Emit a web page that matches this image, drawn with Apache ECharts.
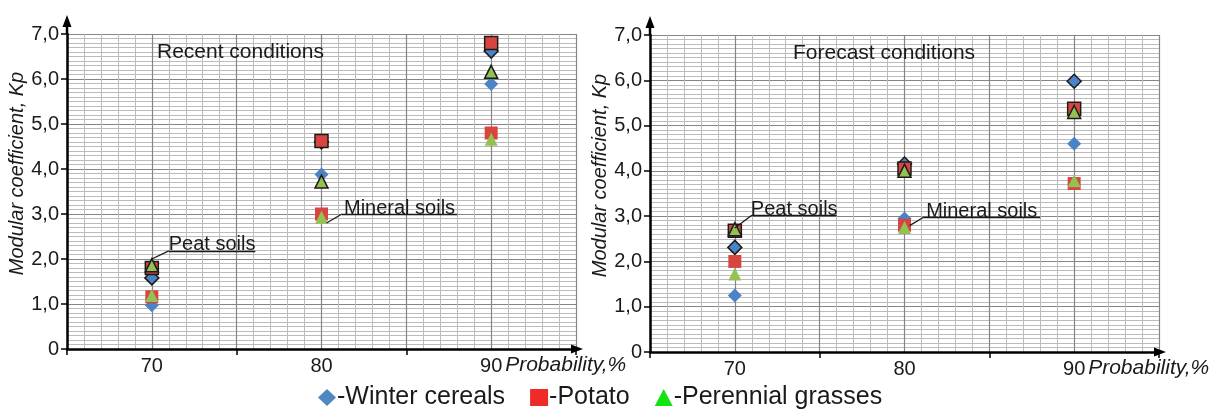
<!DOCTYPE html>
<html>
<head>
<meta charset="utf-8">
<script src="https://cdn.jsdelivr.net/npm/echarts@6/dist/echarts.min.js"></script>
<style>
  html, body { margin: 0; padding: 0; background: #fff; }
  #main { width: 1219px; height: 410px; }
</style>
</head>
<body>
<div id="main"></div>
<script>
// x values (probability, %) and axis labels
const probability = [70, 80, 90];
const xTickValues = [65, 75, 85, 95];
const xLabelValues = [70, 80, 90];
const yLabels = ['0', '1,0', '2,0', '3,0', '4,0', '5,0', '6,0', '7,0'];

// Recent conditions: peat soils / mineral soils
const recentPeatWinter = [1.58, 4.6, 6.62];
const recentPeatPotato = [1.8, 4.62, 6.8];
const recentPeatGrass = [1.86, 3.72, 6.16];
const recentMinWinter = [0.97, 3.88, 5.89];
const recentMinPotato = [1.16, 3.0, 4.8];
const recentMinGrass = [1.19, 2.93, 4.66];

// Forecast conditions
const forecastPeatWinter = [2.31, 4.15, 5.98];
const forecastPeatPotato = [2.68, 4.05, 5.37];
const forecastPeatGrass = [2.71, 4.0, 5.3];
const forecastMinWinter = [1.25, 2.95, 4.6];
const forecastMinPotato = [2.0, 2.8, 3.72];
const forecastMinGrass = [1.72, 2.75, 3.78];

// callouts, in data units
const recentNotes = [
  { text: 'Peat soils', from: [70, 2.0], bend: [71, 2.18], to: [76.1, 2.18] },
  { text: 'Mineral soils', from: [80.3, 2.8], bend: [81.2, 3.0], to: [88.0, 3.0] }
];
const forecastNotes = [
  { text: 'Peat soils', from: [70, 2.74], bend: [71, 3.02], to: [76.0, 3.02] },
  { text: 'Mineral soils', from: [80.3, 2.79], bend: [81.1, 2.97], to: [88.0, 2.97] }
];

const FONT = 'Liberation Sans, Arial, sans-serif';
const crops = [
  { name: '-Winter cereals', symbol: 'diamond', size: 14, color: '#4a84c6', legend: '#4f87c0' },
  { name: '-Potato', symbol: 'rect', size: 13, color: '#d6453f', legend: '#ee2b27' },
  { name: '-Perennial grasses', symbol: 'triangle', size: 13, color: '#94c153', legend: '#13e313' }
];
const peatBorder = { borderColor: '#1b1b1b', borderWidth: 1.5 };

const makePoints = (peat, mineral) => {
  const pts = [];
  probability.forEach((x, i) => {
    pts.push({ value: [x, mineral[i]] });
  });
  probability.forEach((x, i) => {
    pts.push({ value: [x, peat[i]], itemStyle: peatBorder });
  });
  return pts;
};

const noteLines = (notes) => {
  const out = [];
  notes.forEach(n => {
    out.push([{ coord: n.from, label: { show: false } }, { coord: n.bend }]);
    out.push([{
      coord: n.bend,
      label: {
        show: true, formatter: n.text, position: 'insideMiddleTop', distance: -4,
        fontFamily: FONT, fontSize: 20, color: '#1a1a1a'
      }
    }, { coord: n.to }]);
  });
  return out;
};

const gridAxis = (g) => ({
  type: 'value', gridIndex: g, position: 'top', min: 65, max: 95, interval: 5,
  axisLine: { show: false }, axisTick: { show: false }, axisLabel: { show: false },
  splitLine: { show: true, lineStyle: { color: '#858585', width: 1.2 } },
  minorTick: { show: false, splitNumber: 5 },
  minorSplitLine: { show: true, lineStyle: { color: '#bcbcbc', width: 1 } }
});

const mainXAxis = (g) => ({
  type: 'value', gridIndex: g, position: 'bottom', min: 65, max: 95, interval: 5,
  axisLine: { show: true, lineStyle: { color: '#000', width: 2.5 } },
  axisTick: { show: true, customValues: xTickValues, length: 6, lineStyle: { color: '#000', width: 1.5 } },
  axisLabel: { show: true, customValues: xLabelValues, margin: 7,
    fontFamily: FONT, fontSize: 20, color: '#1a1a1a' },
  splitLine: { show: false }
});

const mainYAxis = (g) => ({
  type: 'value', gridIndex: g, min: 0, max: 7, interval: 1,
  name: 'Modular coefficient, Kp', nameLocation: 'middle', nameGap: 38,
  nameTextStyle: { fontFamily: FONT, fontSize: 20, fontStyle: 'italic', color: '#1a1a1a',
    padding: [0, 0, 0, 36] },
  axisLine: { show: true, lineStyle: { color: '#000', width: 2.5 } },
  axisTick: { show: true, length: 6, lineStyle: { color: '#000', width: 1.5 } },
  axisLabel: { margin: 8, fontFamily: FONT, fontSize: 20, color: '#1a1a1a',
    formatter: v => yLabels[v] },
  splitLine: { show: true, lineStyle: { color: '#858585', width: 1.2 } },
  minorTick: { show: false, splitNumber: 10 },
  minorSplitLine: { show: true, lineStyle: { color: '#bcbcbc', width: 1 } }
});

const chartSets = [
  { grid: 0, x: 0, series: [[recentPeatWinter, recentMinWinter], [recentPeatPotato, recentMinPotato], [recentPeatGrass, recentMinGrass]], notes: recentNotes },
  { grid: 1, x: 2, series: [[forecastPeatWinter, forecastMinWinter], [forecastPeatPotato, forecastMinPotato], [forecastPeatGrass, forecastMinGrass]], notes: forecastNotes }
];

const series = [];
const firstSeries = [];
chartSets.forEach(cs => {
  firstSeries.push(series.length);
  cs.series.forEach((pair, k) => {
    const c = crops[k];
    series.push({
      type: 'scatter', name: c.name, xAxisIndex: cs.x, yAxisIndex: cs.grid,
      symbol: c.symbol, symbolSize: c.size,
      itemStyle: { color: c.color, opacity: 1 },
      data: makePoints(pair[0], pair[1])
    });
  });
  series.push({
    type: 'line', name: 'notes', xAxisIndex: cs.x, yAxisIndex: cs.grid, data: [],
    markLine: {
      silent: true, animation: false, symbol: ['none', 'none'],
      lineStyle: { color: '#1a1a1a', width: 1.3, type: 'solid' },
      data: noteLines(cs.notes)
    }
  });
});

const option = {
  animation: false,
  backgroundColor: '#fff',
  title: [
    { text: 'Recent conditions', left: 157, top: 42, padding: 0,
      textStyle: { fontFamily: FONT, fontSize: 21, fontWeight: 'normal', color: '#1a1a1a' } },
    { text: 'Forecast conditions', left: 793, top: 43, padding: 0,
      textStyle: { fontFamily: FONT, fontSize: 21, fontWeight: 'normal', color: '#1a1a1a' } }
  ],
  legend: {
    left: 318, top: 385, padding: 0, itemGap: 25, itemWidth: 18, itemHeight: 17,
    selectedMode: false,
    textStyle: { fontFamily: FONT, fontSize: 25, color: '#1a1a1a', padding: [0, 0, 0, -4] },
    data: crops.map(c => ({ name: c.name, icon: c.symbol, itemStyle: { color: c.legend, borderWidth: 0 } }))
  },
  grid: [
    { left: 67, top: 34, width: 509, height: 315 },
    { left: 650, top: 35, width: 509, height: 317 }
  ],
  xAxis: [mainXAxis(0), gridAxis(0), mainXAxis(1), gridAxis(1)],
  yAxis: [mainYAxis(0), mainYAxis(1)],
  series: series
};

const chart = echarts.init(document.getElementById('main'));
chart.setOption(option);

// axis arrows past the plot area and the x-axis name next to the last label
const graphics = [];
firstSeries.forEach(si => {
  const origin = chart.convertToPixel({ seriesIndex: si }, [65, 0]);
  const top = chart.convertToPixel({ seriesIndex: si }, [65, 7]);
  const right = chart.convertToPixel({ seriesIndex: si }, [95, 0]);
  const lastLabel = chart.convertToPixel({ seriesIndex: si }, [xLabelValues[xLabelValues.length - 1], 0]);
  const yTip = top[1] - 19;
  const xTip = right[0] + 7;
  graphics.push({ type: 'line', silent: true, shape: { x1: top[0], y1: top[1], x2: top[0], y2: yTip + 6 },
    style: { stroke: '#000', lineWidth: 2.5 } });
  graphics.push({ type: 'polygon', silent: true,
    shape: { points: [[top[0], yTip], [top[0] - 4.5, yTip + 12], [top[0] + 4.5, yTip + 12]] },
    style: { fill: '#000' } });
  graphics.push({ type: 'polygon', silent: true,
    shape: { points: [[xTip, origin[1]], [xTip - 12, origin[1] - 4.5], [xTip - 12, origin[1] + 4.5]] },
    style: { fill: '#000' } });
  graphics.push({ type: 'text', silent: true, x: lastLabel[0] + 14, y: origin[1] + 16,
    style: { text: 'Probability,%', fontFamily: FONT, fontSize: 21, fontStyle: 'italic',
      fill: '#1a1a1a', verticalAlign: 'middle', align: 'left' } });
});
chart.setOption({ graphic: graphics });
</script>
</body>
</html>
